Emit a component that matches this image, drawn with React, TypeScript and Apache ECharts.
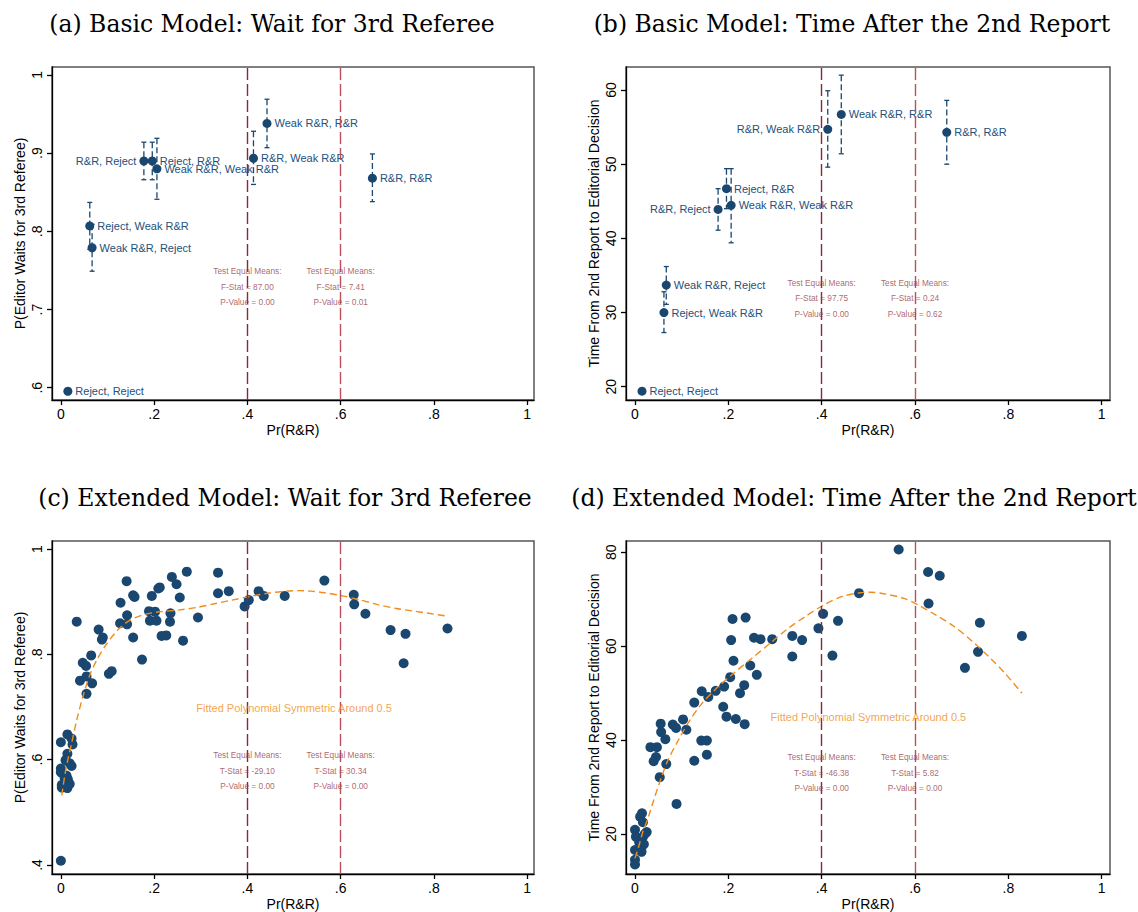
import React, { useEffect, useRef } from 'react';
import * as echarts from 'echarts';

const SANS = '"Liberation Sans", Arial, Helvetica, sans-serif';
const SERIF = '"DejaVu Serif", serif';
const NAVY = '#1a476f';
const LABEL_NAVY = '#24507a';
const LINE_DARK = '#8a2a37';
const LINE_LIGHT = '#bb505b';
const TEST_RED = '#983e48';
const ORANGE = '#f28c1c';

// Shared tick values
const X_TICKS = [0, 0.2, 0.4, 0.6, 0.8, 1];
const Y_TICKS_WAIT_BASIC = [0.6, 0.7, 0.8, 0.9, 1];
const Y_TICKS_TIME_BASIC = [20, 30, 40, 50, 60];
const Y_TICKS_WAIT_EXT = [0.4, 0.6, 0.8, 1];
const Y_TICKS_TIME_EXT = [20, 40, 60, 80];
const CUTOFFS = [0.4, 0.6];

// Basic model: referee recommendation pairs
const PAIR_LABELS = [
  'Reject, Reject',
  'Reject, Weak R&R',
  'Weak R&R, Reject',
  'R&R, Reject',
  'Reject, R&R',
  'Weak R&R, Weak R&R',
  'R&R, Weak R&R',
  'Weak R&R, R&R',
  'R&R, R&R',
];
const PAIR_PR_RR = [0.015, 0.062, 0.067, 0.178, 0.196, 0.206, 0.413, 0.442, 0.668];

const WAIT_MEAN = [0.5955, 0.807, 0.779, 0.89, 0.89, 0.88, 0.8935, 0.938, 0.868];
const WAIT_LOW = [null, 0.777, 0.749, 0.866, 0.866, 0.841, 0.86, 0.907, 0.838];
const WAIT_HIGH = [null, 0.837, 0.809, 0.914, 0.914, 0.919, 0.928, 0.969, 0.899];
const WAIT_LABEL_SIDE = ['right', 'right', 'right', 'left', 'right', 'right', 'right', 'right', 'right'];

const TIME_MEAN = [19.4, 30.0, 33.7, 43.9, 46.7, 44.45, 54.7, 56.7, 54.3];
const TIME_LOW = [null, 27.3, 31.1, 41.1, 44.0, 39.4, 49.6, 51.4, 50.0];
const TIME_HIGH = [null, 32.8, 36.2, 46.7, 49.4, 49.4, 59.9, 62.0, 58.6];
const TIME_LABEL_SIDE = ['right', 'right', 'right', 'left', 'right', 'right', 'left', 'right', 'right'];

// Extended model: cell-level observations
const EXT_WAIT_X = [
  0, 0, 0, 0, 0.002, 0.002, 0.014, 0.023, 0.025, 0.014, 0.01, 0.019, 0.023, 0.012, 0.015,
  0.019, 0.014, 0.008, 0.034, 0.041, 0.047, 0.054, 0.055, 0.055, 0.065, 0.067, 0.081, 0.09,
  0.088, 0.103, 0.109, 0.128, 0.127, 0.141, 0.142, 0.142, 0.155, 0.155, 0.158, 0.174, 0.189,
  0.191, 0.195, 0.202, 0.205, 0.209, 0.212, 0.216, 0.226, 0.235, 0.234, 0.238, 0.248, 0.255,
  0.262, 0.27, 0.294, 0.337, 0.337, 0.36, 0.394, 0.403, 0.424, 0.435, 0.48, 0.565, 0.628,
  0.629, 0.653, 0.707, 0.739, 0.735, 0.829,
];
const EXT_WAIT_Y = [
  0.408, 0.633, 0.583, 0.576, 0.552, 0.547, 0.648, 0.64, 0.629, 0.611, 0.599, 0.593, 0.588,
  0.57, 0.563, 0.554, 0.546, 0.565, 0.862, 0.75, 0.784, 0.778, 0.758, 0.725, 0.798, 0.745,
  0.847, 0.832, 0.828, 0.763, 0.768, 0.898, 0.859, 0.939, 0.874, 0.857, 0.832, 0.912, 0.909,
  0.79, 0.882, 0.864, 0.911, 0.881, 0.864, 0.925, 0.927, 0.835, 0.836, 0.878, 0.862, 0.947,
  0.933, 0.908, 0.826, 0.957, 0.87, 0.955, 0.916, 0.92, 0.891, 0.903, 0.92, 0.911, 0.911,
  0.94, 0.913, 0.895, 0.877, 0.846, 0.839, 0.783, 0.849,
];
const EXT_TIME_X = [
  0.565, 0.628, 0.653, 0.48, 0.629, 0.403, 0.209, 0.237, 0.435, 0.739, 0.393, 0.206, 0.337,
  0.358, 0.255, 0.269, 0.294, 0.829, 0.337, 0.423, 0.735, 0.707, 0.211, 0.247, 0.261, 0.204,
  0.234, 0.225, 0.191, 0.173, 0.157, 0.143, 0.127, 0.189, 0.196, 0.216, 0.235, 0.055, 0.081,
  0.088, 0.103, 0.11, 0.056, 0.065, 0.142, 0.154, 0.033, 0.047, 0.154, 0.045, 0.04, 0.067,
  0.127, 0.053, 0.089, 0.015, 0.011, 0.017, 0.025, 0, 0.002, 0.017, 0.019, 0, 0.014, 0, 0,
  0.021, 0.009,
];
const EXT_TIME_Y = [
  80.6, 75.8, 75.0, 71.3, 69.1, 66.9, 65.8, 66.1, 65.4, 65.0, 63.8, 61.3, 62.2, 61.3, 61.8,
  61.5, 61.5, 62.2, 57.8, 58.0, 58.8, 55.4, 56.9, 55.9, 53.9, 53.4, 51.7, 50.0, 51.4, 50.5,
  49.2, 50.4, 48.0, 47.1, 45.0, 44.5, 43.4, 43.5, 43.3, 42.6, 44.4, 42.2, 41.7, 40.2, 39.9,
  39.9, 38.5, 38.5, 36.9, 36.4, 35.5, 34.9, 35.6, 32.1, 26.4, 24.4, 23.7, 22.5, 20.4, 20.9,
  19.4, 19.4, 17.8, 16.6, 16.2, 14.5, 13.5, 20.0, 18.2,
];

// Fitted polynomial (symmetric around 0.5), traced values
const FIT_WAIT_X = [
  0.002, 0.008, 0.015, 0.023, 0.034, 0.046, 0.061, 0.077, 0.099, 0.122, 0.145, 0.176, 0.214,
  0.252, 0.291, 0.329, 0.367, 0.406, 0.444, 0.482, 0.508, 0.536, 0.566, 0.604, 0.643, 0.681,
  0.719, 0.757, 0.788, 0.824,
];
const FIT_WAIT_Y = [
  0.532, 0.568, 0.6, 0.631, 0.675, 0.716, 0.758, 0.789, 0.821, 0.846, 0.863, 0.875, 0.881,
  0.884, 0.889, 0.896, 0.903, 0.91, 0.916, 0.92, 0.921, 0.92, 0.917, 0.911, 0.903, 0.894,
  0.887, 0.882, 0.878, 0.873,
];
const FIT_TIME_X = [
  0, 0.009, 0.017, 0.029, 0.04, 0.056, 0.071, 0.095, 0.118, 0.141, 0.172, 0.211, 0.25, 0.289,
  0.327, 0.366, 0.405, 0.444, 0.483, 0.506, 0.537, 0.576, 0.607, 0.645, 0.684, 0.723, 0.762,
  0.793, 0.829,
];
const FIT_TIME_Y = [
  14.8, 17.7, 20.5, 23.7, 27.2, 31.9, 35.8, 40.4, 44.3, 47.5, 50.8, 54.2, 57.4, 60.6, 63.7,
  66.4, 68.8, 70.6, 71.4, 71.5, 71.1, 70.2, 68.8, 66.6, 64.2, 61.0, 57.4, 54.2, 50.0,
];

const FIT_TEXT = 'Fitted Polynomial Symmetric Around 0.5';
const TESTS_WAIT_BASIC = ['Test Equal Means:\nF-Stat = 87.00\nP-Value = 0.00', 'Test Equal Means:\nF-Stat = 7.41\nP-Value = 0.01'];
const TESTS_TIME_BASIC = ['Test Equal Means:\nF-Stat = 97.75\nP-Value = 0.00', 'Test Equal Means:\nF-Stat = 0.24\nP-Value = 0.62'];
const TESTS_WAIT_EXT = ['Test Equal Means:\nT-Stat = -29.10\nP-Value = 0.00', 'Test Equal Means:\nT-Stat = 30.34\nP-Value = 0.00'];
const TESTS_TIME_EXT = ['Test Equal Means:\nT-Stat = -46.38\nP-Value = 0.00', 'Test Equal Means:\nT-Stat = 5.82\nP-Value = 0.00'];

const TITLES = [
  '(a) Basic Model: Wait for 3rd Referee',
  '(b) Basic Model: Time After the 2nd Report',
  '(c) Extended Model: Wait for 3rd Referee',
  '(d) Extended Model: Time After the 2nd Report',
];
const WAIT_NAME = 'P(Editor Waits for 3rd Referee)';
const TIME_NAME = 'Time From 2nd Report to Editorial Decision';

const fmtTick = (v: number) => (Number.isInteger(v) ? String(v) : String(v).replace(/^0\./, '.'));

function makeX(gridIndex: number, min: number, max: number) {
  return {
    type: 'value',
    gridIndex,
    min,
    max,
    name: 'Pr(R&R)',
    nameLocation: 'middle',
    nameGap: 23,
    nameTextStyle: { fontSize: 14, color: '#000', fontFamily: SANS },
    axisLine: { show: true, onZero: false, lineStyle: { color: '#000', width: 1.3 } },
    axisTick: { show: true, length: 5, customValues: X_TICKS, lineStyle: { color: '#000', width: 1.3 } },
    axisLabel: { customValues: X_TICKS, formatter: fmtTick, fontSize: 14, color: '#000', margin: 7, fontFamily: SANS },
    splitLine: { show: false },
  };
}

function makeY(gridIndex: number, min: number, max: number, ticks: number[], name: string) {
  return {
    type: 'value',
    gridIndex,
    min,
    max,
    name,
    nameLocation: 'middle',
    nameGap: 25,
    nameRotate: 90,
    nameTextStyle: { fontSize: 14, color: '#000', fontFamily: SANS },
    axisLine: { show: true, onZero: false, lineStyle: { color: '#000', width: 1.3 } },
    axisTick: { show: true, length: 5, customValues: ticks, lineStyle: { color: '#000', width: 1.3 } },
    axisLabel: { customValues: ticks, formatter: fmtTick, fontSize: 14, color: '#000', margin: 8, rotate: 90, fontFamily: SANS },
    splitLine: { show: false },
  };
}

function cutoffLines() {
  return {
    silent: true,
    symbol: 'none',
    label: { show: false },
    data: CUTOFFS.map((v, i) => ({
      xAxis: v,
      lineStyle: { color: i === 0 ? LINE_DARK : LINE_LIGHT, type: [12, 4], width: 1.4, opacity: 1 },
    })),
  };
}

function testSeries(idx: number, y: number, texts: string[]) {
  return {
    type: 'scatter',
    xAxisIndex: idx,
    yAxisIndex: idx,
    symbolSize: 0,
    silent: true,
    z: 5,
    data: CUTOFFS.map((x, i) => ({
      value: [x, y],
      label: {
        show: true,
        position: 'inside',
        formatter: texts[i],
        fontSize: 8.3,
        lineHeight: 15.5,
        color: TEST_RED,
        fontFamily: SANS,
      },
    })),
  };
}

function fitTextSeries(idx: number, y: number) {
  return {
    type: 'scatter',
    xAxisIndex: idx,
    yAxisIndex: idx,
    symbolSize: 0,
    silent: true,
    z: 5,
    data: [
      {
        value: [0.5, y],
        label: { show: true, position: 'inside', formatter: FIT_TEXT, fontSize: 11, color: ORANGE, fontFamily: SANS },
      },
    ],
  };
}

function errorBars(idx: number, lows: (number | null)[], highs: (number | null)[]) {
  const data: number[][] = [];
  PAIR_PR_RR.forEach((x, i) => {
    const lo = lows[i];
    const hi = highs[i];
    if (lo != null && hi != null) data.push([x, lo, hi]);
  });
  return {
    type: 'custom',
    xAxisIndex: idx,
    yAxisIndex: idx,
    silent: true,
    z: 3,
    data,
    renderItem: (_params: any, api: any) => {
      const x = api.value(0);
      const top = api.coord([x, api.value(2)]);
      const bottom = api.coord([x, api.value(1)]);
      const stroke = { stroke: NAVY, lineWidth: 1.3 };
      return {
        type: 'group',
        children: [
          { type: 'line', shape: { x1: top[0], y1: top[1], x2: bottom[0], y2: bottom[1] }, style: { ...stroke, lineDash: [6, 3] } },
          { type: 'line', shape: { x1: top[0] - 2.5, y1: top[1], x2: top[0] + 2.5, y2: top[1] }, style: stroke },
          { type: 'line', shape: { x1: bottom[0] - 2.5, y1: bottom[1], x2: bottom[0] + 2.5, y2: bottom[1] }, style: stroke },
        ],
      };
    },
  };
}

function pairSeries(idx: number, means: number[], sides: string[]) {
  return {
    type: 'scatter',
    xAxisIndex: idx,
    yAxisIndex: idx,
    symbol: 'circle',
    symbolSize: 9,
    itemStyle: { color: NAVY, opacity: 1 },
    z: 4,
    markLine: cutoffLines(),
    data: PAIR_PR_RR.map((x, i) => ({
      value: [x, means[i]],
      name: PAIR_LABELS[i],
      label: {
        show: true,
        position: sides[i],
        distance: 3,
        formatter: '{b}',
        fontSize: 11,
        color: LABEL_NAVY,
        fontFamily: SANS,
      },
    })),
  };
}

function cellSeries(idx: number, xs: number[], ys: number[]) {
  return {
    type: 'scatter',
    xAxisIndex: idx,
    yAxisIndex: idx,
    symbol: 'circle',
    symbolSize: 10,
    itemStyle: { color: NAVY, opacity: 1 },
    z: 3,
    markLine: cutoffLines(),
    data: xs.map((x, i) => [x, ys[i]]),
  };
}

function fitSeries(idx: number, xs: number[], ys: number[]) {
  return {
    type: 'line',
    xAxisIndex: idx,
    yAxisIndex: idx,
    showSymbol: false,
    symbol: 'none',
    smooth: 0.3,
    z: 4,
    lineStyle: { color: ORANGE, width: 1.4, type: [7, 4] },
    data: xs.map((x, i) => [x, ys[i]]),
  };
}

export default function App() {
  const ref = useRef<HTMLDivElement>(null);

  useEffect(() => {
    if (!ref.current) return;
    const chart = echarts.init(ref.current, undefined, { renderer: 'svg' });
    const gridStyle = { show: true, borderColor: '#555', borderWidth: 1.5, backgroundColor: '#fff' };

    const titleText = (text: string, x: number, y: number) => ({
      type: 'text',
      x,
      y,
      style: { text, fontFamily: SERIF, fontSize: 23.5, fill: '#000', textAlign: 'center', textVerticalAlign: 'middle' },
    });

    chart.setOption({
      animation: false,
      backgroundColor: '#fff',
      grid: [
        { left: 52, top: 67, width: 482, height: 333, ...gridStyle },
        { left: 626, top: 67, width: 484, height: 333, ...gridStyle },
        { left: 52, top: 541, width: 482, height: 333, ...gridStyle },
        { left: 626, top: 541, width: 484, height: 333, ...gridStyle },
      ],
      xAxis: [
        makeX(0, -0.019, 1.0145),
        makeX(1, -0.0193, 1.0178),
        makeX(2, -0.019, 1.0145),
        makeX(3, -0.0193, 1.0178),
      ],
      yAxis: [
        makeY(0, 0.5843, 1.0102, Y_TICKS_WAIT_BASIC, WAIT_NAME),
        makeY(1, 18.21, 63.1, Y_TICKS_TIME_BASIC, TIME_NAME),
        makeY(2, 0.3829, 1.0152, Y_TICKS_WAIT_EXT, WAIT_NAME),
        makeY(3, 11.48, 82.41, Y_TICKS_TIME_EXT, TIME_NAME),
      ],
      graphic: [
        titleText(TITLES[0], 272, 24),
        titleText(TITLES[1], 852, 24),
        titleText(TITLES[2], 285, 498),
        titleText(TITLES[3], 854, 498),
      ],
      series: [
        errorBars(0, WAIT_LOW, WAIT_HIGH),
        pairSeries(0, WAIT_MEAN, WAIT_LABEL_SIDE),
        testSeries(0, 0.7289, TESTS_WAIT_BASIC),

        errorBars(1, TIME_LOW, TIME_HIGH),
        pairSeries(1, TIME_MEAN, TIME_LABEL_SIDE),
        testSeries(1, 31.96, TESTS_TIME_BASIC),

        cellSeries(2, EXT_WAIT_X, EXT_WAIT_Y),
        fitSeries(2, FIT_WAIT_X, FIT_WAIT_Y),
        fitTextSeries(2, 0.6976),
        testSeries(2, 0.579, TESTS_WAIT_EXT),

        cellSeries(3, EXT_TIME_X, EXT_TIME_Y),
        fitSeries(3, FIT_TIME_X, FIT_TIME_Y),
        fitTextSeries(3, 44.9),
        testSeries(3, 33.0, TESTS_TIME_EXT),
      ],
    });

    return () => chart.dispose();
  }, []);

  return <div ref={ref} style={{ position: 'fixed', left: 0, top: 0, width: 1138, height: 912 }} />;
}
